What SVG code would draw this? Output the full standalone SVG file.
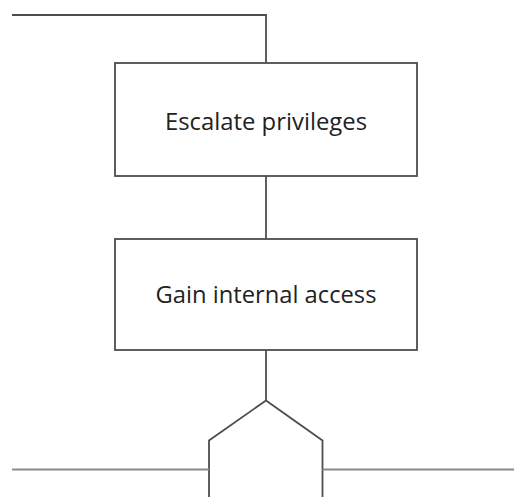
<svg xmlns="http://www.w3.org/2000/svg" width="514" height="497" viewBox="0 0 514 497">
  <style>
    .box { fill: #ffffff; stroke: #4d4d4d; stroke-width: 1.8; }
    .wire { fill: none; stroke: #4d4d4d; stroke-width: 1.8; }
    .hwire { fill: none; stroke: #8a8a8a; stroke-width: 2; }
    .label { font-family: "Open Sans", "Liberation Sans", sans-serif; font-size: 23.5px; fill: #222222; text-anchor: middle; }
  </style>
  <rect width="514" height="497" fill="#ffffff"/>
  <g id="connectors">
    <path class="wire" d="M12 15 H266 V63"/>
    <path class="wire" d="M266 176 V239"/>
    <path class="wire" d="M266 350 V400.5 L209 440.5 V497 M266 400.5 L322.5 440.5 V497"/>
    <path class="hwire" d="M12 469.5 H209 M322.5 469.5 H514"/>
  </g>
  <g id="escalate-privileges">
    <rect class="box" x="115" y="63" width="302" height="113"/>
    <text class="label" x="266" y="129.5" textLength="202" lengthAdjust="spacingAndGlyphs">Escalate privileges</text>
  </g>
  <g id="gain-internal-access">
    <rect class="box" x="115" y="239" width="302" height="111"/>
    <text class="label" x="266" y="303" textLength="221" lengthAdjust="spacingAndGlyphs">Gain internal access</text>
  </g>
</svg>
